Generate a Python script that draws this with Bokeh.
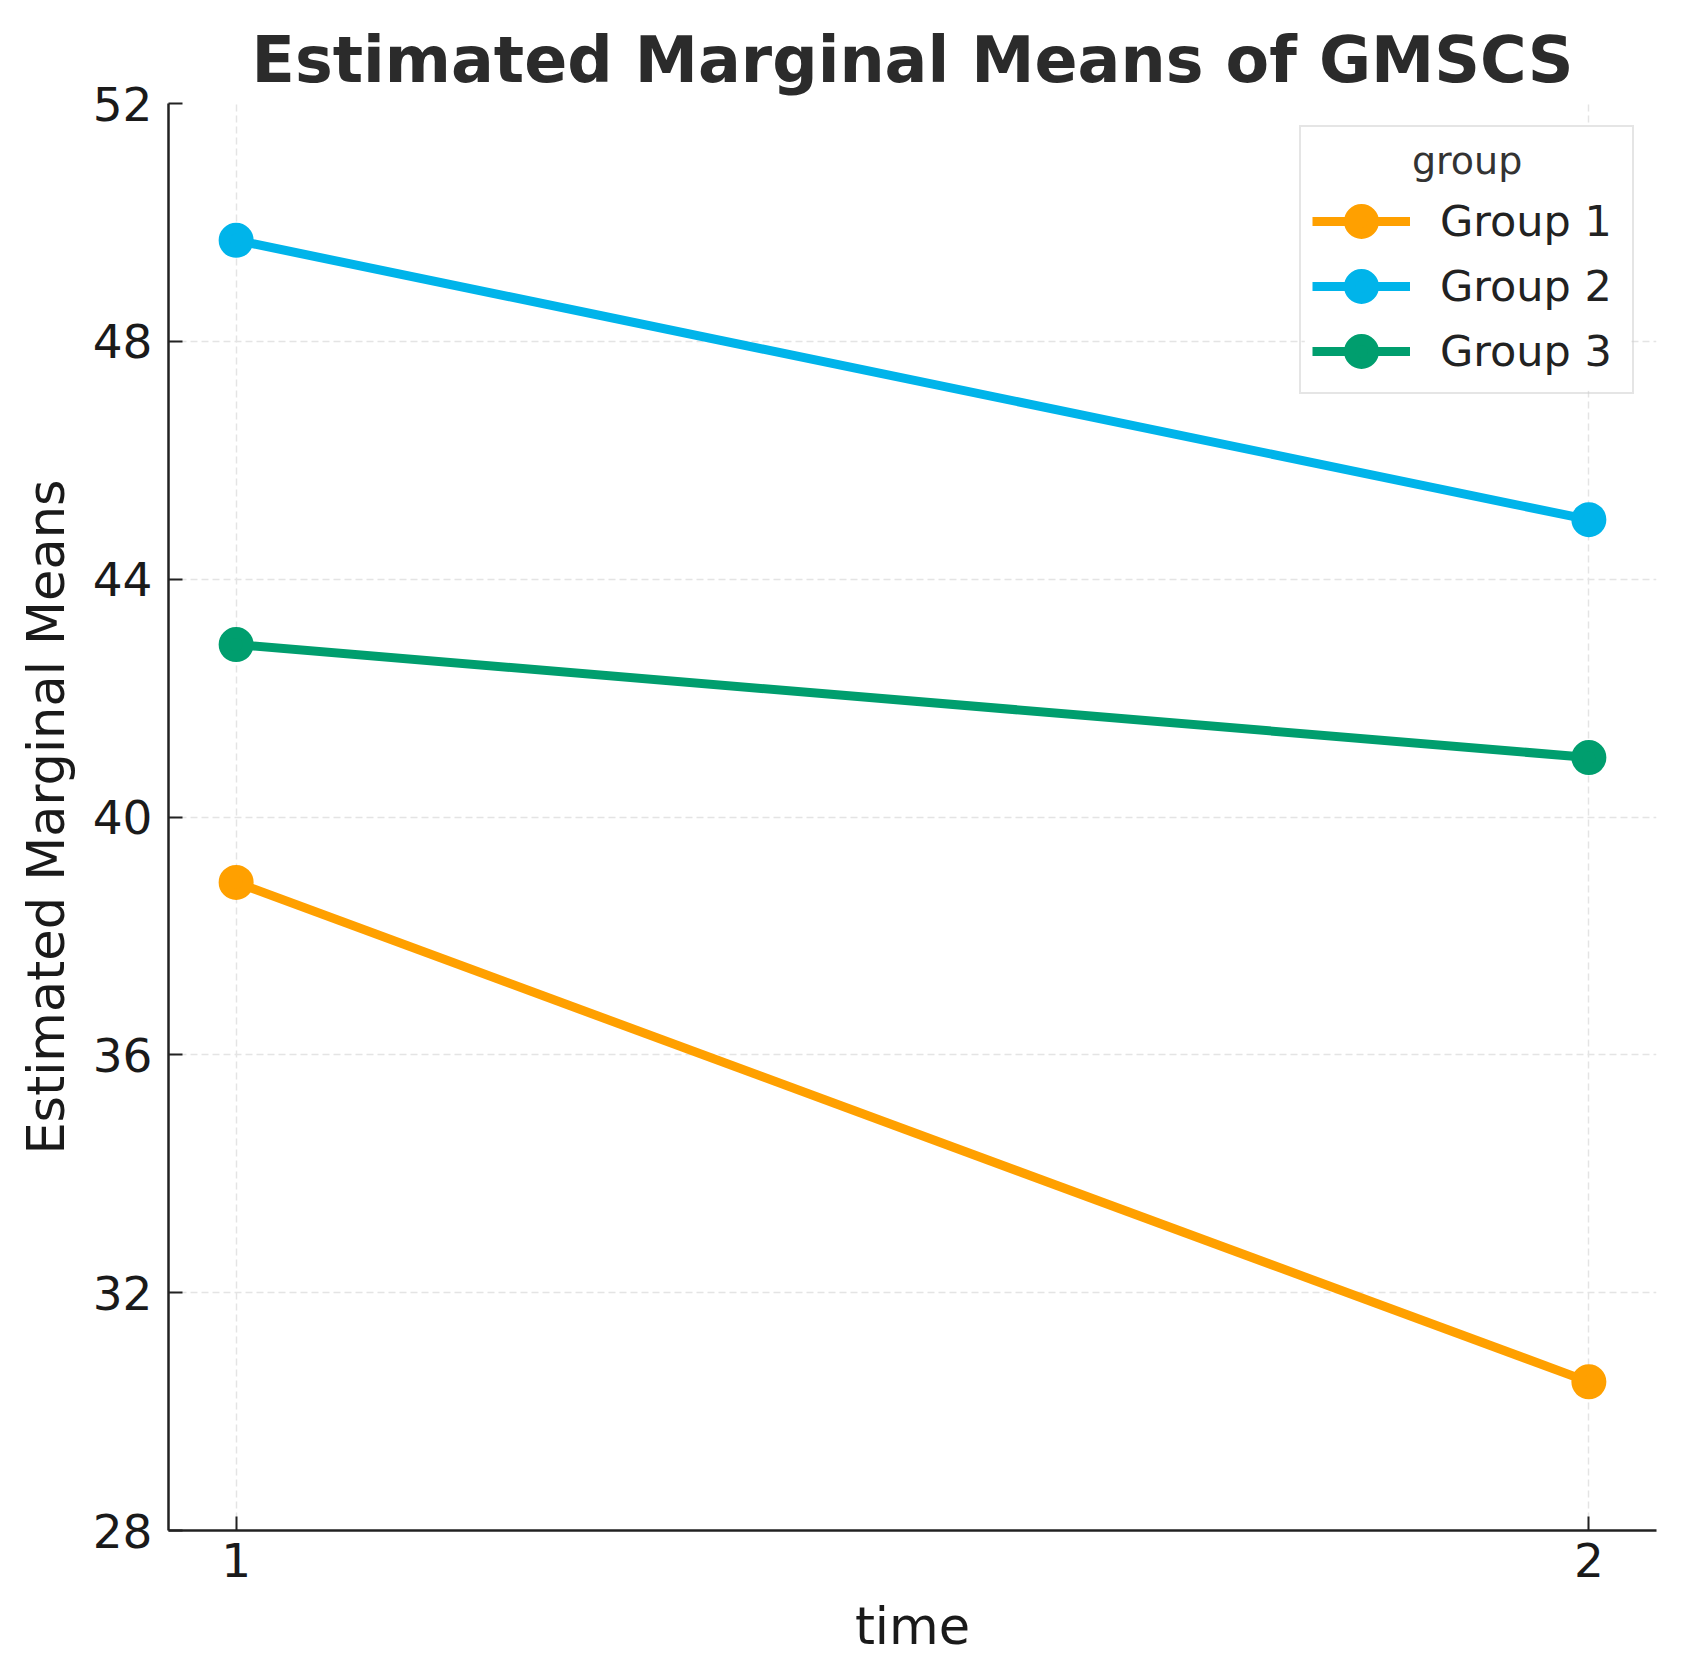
from bokeh.plotting import figure
from bokeh.models import Range1d, FixedTicker, Legend, LegendItem, Label, BoxAnnotation
from bokeh.embed import file_html
from bokeh.resources import INLINE

# Datos del grafico
tiempos = [1, 2]
grupos = ["Group 1", "Group 2", "Group 3"]
grupo1 = [38.9, 30.5]
grupo2 = [49.7, 45.0]
grupo3 = [42.9, 41.0]
colores = ["#FFA000", "#00B4EA", "#009E6E"]
y_ticks = [28, 32, 36, 40, 44, 48, 52]

FUENTE = "DejaVu Sans"


def crear_grafico():
    p = figure(width=1684, height=1664, output_backend="svg", toolbar_location=None,
               x_range=Range1d(0.95, 2.05), y_range=Range1d(28, 52),
               x_axis_label="time", y_axis_label="Estimated Marginal Means",
               min_border_left=168, min_border_right=28,
               min_border_top=103, min_border_bottom=134)

    p.title.text = "Estimated Marginal Means of GMSCS"
    p.title.text_font = FUENTE
    p.title.text_font_size = "63.5px"
    p.title.text_font_style = "bold"
    p.title.text_color = "#2b2b2b"
    p.title.align = "center"
    p.title.standoff = 14

    p.outline_line_color = None
    p.background_fill_color = "white"
    p.border_fill_color = "white"

    # Ejes
    p.xaxis.ticker = FixedTicker(ticks=tiempos)
    p.yaxis.ticker = FixedTicker(ticks=y_ticks)
    for eje in [p.xaxis[0], p.yaxis[0]]:
        eje.axis_line_color = "#222222"
        eje.axis_line_width = 2.5
        eje.major_tick_line_color = "#222222"
        eje.major_tick_line_width = 2
        eje.major_tick_in = 14
        eje.major_tick_out = 0
        eje.minor_tick_line_color = None
        eje.major_label_text_font = FUENTE
        eje.major_label_text_font_size = "47px"
        eje.major_label_text_color = "#1a1a1a"
        eje.axis_label_text_font = FUENTE
        eje.axis_label_text_font_size = "51px"
        eje.axis_label_text_font_style = "normal"
        eje.axis_label_text_color = "#1a1a1a"
    p.xaxis.major_label_standoff = 12
    p.xaxis.axis_label_standoff = 17
    p.yaxis.major_label_standoff = 16
    p.yaxis.axis_label_standoff = 14

    # Cuadricula
    p.grid.grid_line_color = "#e4e4e4"
    p.grid.grid_line_width = 1.5
    p.grid.grid_line_dash = "7 4"

    # Fondo blanco de la leyenda (tapa la cuadricula)
    fondo = BoxAnnotation(left=1.79, right=2.03, top=51.63, bottom=47.17,
                          fill_color="white", fill_alpha=1, line_color=None,
                          level="underlay")
    p.add_layout(fondo)

    # Lineas y puntos (el borde grueso agranda el punto tambien en la leyenda)
    items = []
    for nombre, valores, color in zip(grupos, [grupo1, grupo2, grupo3], colores):
        linea = p.line(tiempos, valores, line_color=color, line_width=9)
        puntos = p.scatter(tiempos, valores, size=24, fill_color=color,
                           line_color=color, line_width=11)
        items.append(LegendItem(label=nombre, renderers=[linea, puntos]))

    # Leyenda (el titulo se pone centrado con un Label aparte)
    leyenda = Legend(items=items, location="top_right", title=" ")
    leyenda.margin = 22
    leyenda.padding = 11
    leyenda.spacing = 5
    leyenda.glyph_width = 98
    leyenda.glyph_height = 60
    leyenda.label_height = 50
    leyenda.label_width = 181
    leyenda.label_standoff = 30
    leyenda.label_text_font = FUENTE
    leyenda.label_text_font_size = "43px"
    leyenda.label_text_color = "#222222"
    leyenda.title_text_font = FUENTE
    leyenda.title_text_font_size = "38px"
    leyenda.title_standoff = 9
    leyenda.border_line_color = "#cccccc"
    leyenda.border_line_width = 2
    leyenda.background_fill_alpha = 0
    p.add_layout(leyenda)

    titulo_leyenda = Label(x=1.91, y=51.04, text="group", text_align="center",
                           text_baseline="middle", text_font=FUENTE,
                           text_font_size="38px", text_color="#333333")
    p.add_layout(titulo_leyenda)

    return p


p = crear_grafico()
open("out.html", "w").write(file_html(p, INLINE))
